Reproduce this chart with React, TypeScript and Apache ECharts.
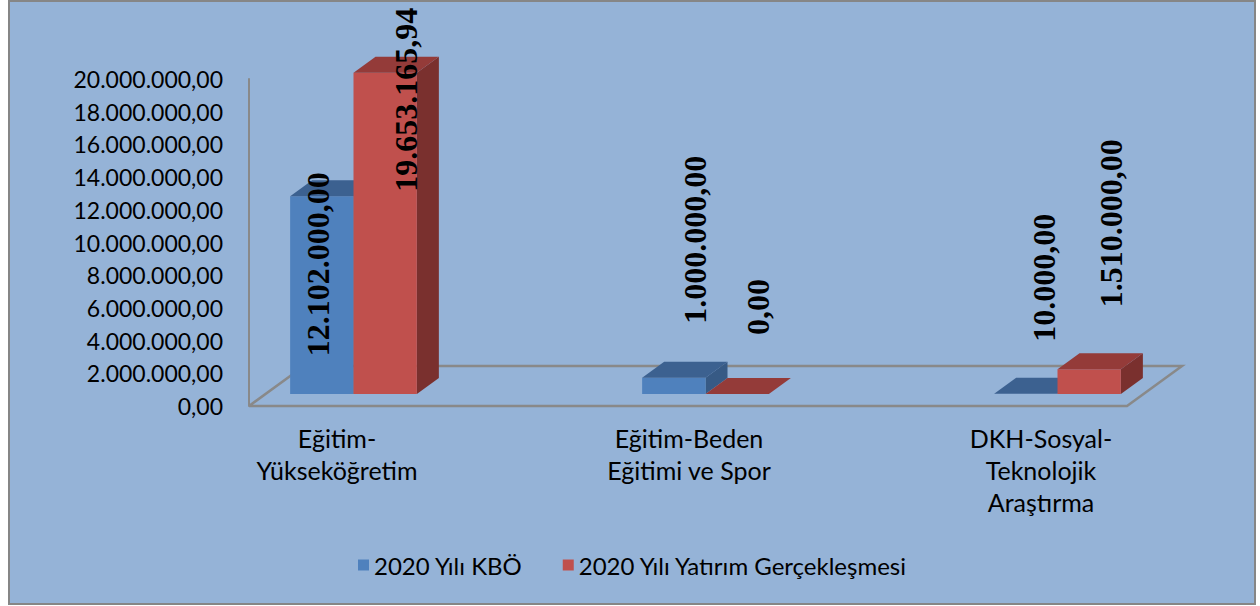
import React, { useEffect, useRef } from "react";
import * as echarts from "echarts";

// ---- data ----
const categories = [
  "Eğitim-\nYükseköğretim",
  "Eğitim-Beden\nEğitimi ve Spor",
  "DKH-Sosyal-\nTeknolojik\nAraştırma",
];
const seriesNames = ["2020 Yılı KBÖ", "2020 Yılı Yatırım Gerçekleşmesi"];
const kboValues = [12102000, 1000000, 10000];
const realizedValues = [19653165.94, 0, 1510000];
const yMin = 0;
const yMax = 20000000;
const yStep = 2000000;

// ---- styles / layout ----
const BG = "#95B3D7";
const LINE = "#898989";
const palettes = [
  { front: "#4F81BD", top: "#3C6190", side: "#375A85" },
  { front: "#C0504D", top: "#943B39", side: "#7A302E" },
];
// label anchor shifts (px) relative to the top-front of each bar
const labelShift = [
  [[-4, 160], [21, -54], [18, -52]],
  [[21, 119], [21, -59], [22, -62]],
];
const FLOOR_DX = 55;
const FLOOR_DY = -40;

function fmtTR(v: number): string {
  const fixed = Math.abs(v).toFixed(2);
  const [ip, dec] = fixed.split(".");
  const withDots = ip.replace(/\B(?=(\d{3})+(?!\d))/g, ".");
  return (v < 0 ? "-" : "") + withDots + "," + dec;
}

function makeBarRender(s: number, values: number[]) {
  return (params: any, api: any) => {
    const idx = api.value(0);
    const val = api.value(1);
    const center = api.coord([idx, 0]);
    const band = api.size([1, 0])[0];
    const bw = band * 0.18;
    const topPt = api.coord([idx, val]);
    const offX = FLOOR_DX * 0.3;
    const offY = FLOOR_DY * 0.3;
    const dx = FLOOR_DX * 0.4;
    const dy = FLOOR_DY * 0.4;
    const fx0 = center[0] + offX + (s === 0 ? -bw : 0);
    const fx1 = fx0 + bw;
    const fyb = center[1] + offY;
    const fyt = topPt[1] + offY;
    const pal = palettes[s];
    const sh = labelShift[s][idx];
    const children: any[] = [];
    if (fyb - fyt > 0.5) {
      children.push({
        type: "polygon",
        shape: { points: [[fx1, fyt], [fx1 + dx, fyt + dy], [fx1 + dx, fyb + dy], [fx1, fyb]] },
        style: { fill: pal.side },
      });
      children.push({
        type: "rect",
        shape: { x: fx0, y: fyt, width: bw, height: fyb - fyt },
        style: { fill: pal.front },
      });
    }
    children.push({
      type: "polygon",
      shape: { points: [[fx0, fyt], [fx1, fyt], [fx1 + dx, fyt + dy], [fx0 + dx, fyt + dy]] },
      style: { fill: pal.top },
    });
    children.push({
      type: "text",
      x: fx0 + bw / 2 + sh[0],
      y: fyt + sh[1],
      rotation: Math.PI / 2,
      z2: 10,
      style: {
        text: fmtTR(values[idx]),
        fill: "#000",
        font: 'bold 32px "Liberation Serif"',
        align: "left",
        verticalAlign: "middle",
      },
    });
    return { type: "group", children };
  };
}

export default function App() {
  const ref = useRef<HTMLDivElement>(null);
  useEffect(() => {
    if (!ref.current) return;
    const chart = echarts.init(ref.current, undefined, { renderer: "svg" });
    const option: any = {
      animation: false,
      backgroundColor: "#ffffff",
      graphic: [
        {
          type: "rect",
          z: -100,
          silent: true,
          shape: { x: 9, y: 1, width: 1246, height: 603 },
          style: { fill: BG, stroke: "#868686", lineWidth: 2 },
        },
      ],
      legend: {
        left: 353,
        top: 548,
        itemWidth: 11,
        itemHeight: 11,
        itemGap: 40,
        icon: "rect",
        textStyle: { fontFamily: "Lato", fontSize: 24, color: "#000" },
        data: seriesNames,
      },
      grid: [
        { left: 249, right: 10, top: 79, bottom: 200 },
        { left: 161, right: 43, top: 79, bottom: 200 },
      ],
      xAxis: [
        { type: "value", gridIndex: 0, show: false, min: 0, max: 1 },
        {
          type: "category",
          gridIndex: 1,
          data: categories,
          axisLine: { show: false },
          axisTick: { show: false },
          axisLabel: {
            interval: 0,
            margin: 16,
            fontFamily: "Lato",
            fontSize: 25,
            lineHeight: 32,
            color: "#000",
          },
        },
      ],
      yAxis: [
        {
          type: "value",
          gridIndex: 0,
          min: yMin,
          max: yMax,
          interval: yStep,
          axisLine: { show: true, lineStyle: { color: LINE, width: 2 } },
          axisTick: { show: false },
          splitLine: { show: false },
          axisLabel: {
            margin: 26,
            fontFamily: "Lato",
            fontSize: 23,
            color: "#000",
            formatter: (v: number) => fmtTR(v),
          },
        },
        {
          type: "value",
          gridIndex: 1,
          min: yMin,
          max: yMax,
          interval: yStep,
          show: false,
        },
      ],
      series: [
        {
          type: "custom",
          name: "floor",
          xAxisIndex: 1,
          yAxisIndex: 1,
          silent: true,
          z: 1,
          data: [[0, 0]],
          renderItem: (params: any, api: any) => {
            const band = api.size([1, 0])[0];
            const l = api.coord([0, 0]);
            const r = api.coord([categories.length - 1, 0]);
            const x0 = l[0] - band / 4;
            const x1 = r[0] + band / 4 - 2;
            const y = l[1];
            return {
              type: "polyline",
              shape: {
                points: [
                  [x0, y],
                  [x1, y],
                  [x1 + FLOOR_DX, y + FLOOR_DY],
                  [x0 + FLOOR_DX, y + FLOOR_DY],
                  [x0, y],
                ],
              },
              style: { stroke: LINE, lineWidth: 2.5, fill: "none" },
            };
          },
        },
        {
          type: "custom",
          name: seriesNames[0],
          xAxisIndex: 1,
          yAxisIndex: 1,
          z: 2,
          itemStyle: { color: palettes[0].front },
          data: kboValues.map((v, i) => [i, v]),
          encode: { x: 0, y: 1 },
          renderItem: makeBarRender(0, kboValues),
        },
        {
          type: "custom",
          name: seriesNames[1],
          xAxisIndex: 1,
          yAxisIndex: 1,
          z: 3,
          itemStyle: { color: palettes[1].front },
          data: realizedValues.map((v, i) => [i, v]),
          encode: { x: 0, y: 1 },
          renderItem: makeBarRender(1, realizedValues),
        },
      ],
    };
    chart.setOption(option);
    return () => chart.dispose();
  }, []);
  return (
    <div
      ref={ref}
      style={{ position: "fixed", left: 0, top: 0, width: 1260, height: 606 }}
    />
  );
}
